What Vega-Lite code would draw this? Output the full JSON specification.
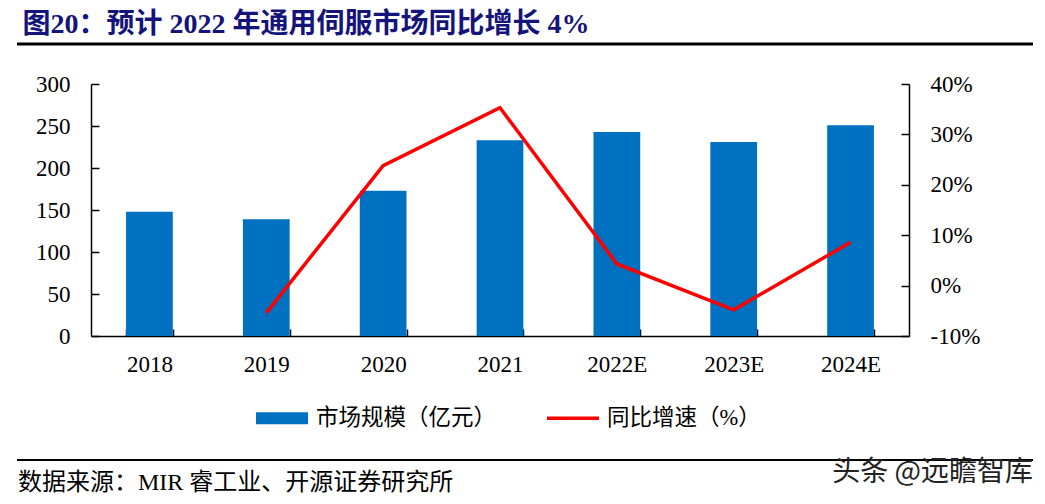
{
  "$schema": "https://vega.github.io/schema/vega-lite/v6.json",
  "background": "white",
  "padding": {"left": 15, "top": 10, "right": 0, "bottom": 0},
  "width": 818,
  "height": 252,
  "config": {"view": {"stroke": null}},
  "title": {
    "text": "图20：预计 2022 年通用伺服市场同比增长 4%",
    "anchor": "start",
    "frame": "bounds",
    "font": "Liberation Serif, Noto Sans CJK SC",
    "fontSize": 28,
    "fontWeight": "bold",
    "color": "#14147A",
    "offset": 4,
    "dx": 7
  },
  "datasets": {
    "market": [
      {"year": "2018", "size": 148, "growth": null},
      {"year": "2019", "size": 139, "growth": -5.4},
      {"year": "2020", "size": 173, "growth": 23.8},
      {"year": "2021", "size": 233, "growth": 35.3},
      {"year": "2022E", "size": 243, "growth": 4.3},
      {"year": "2023E", "size": 231, "growth": -4.8},
      {"year": "2024E", "size": 251, "growth": 8.6}
    ]
  },
  "layer": [
    {
      "data": {"name": "market"},
      "encoding": {
        "x": {
          "field": "year", "type": "nominal", "sort": null,
          "scale": {"paddingInner": 0.6, "paddingOuter": 0.3},
          "axis": {
            "title": null, "labelAngle": 0, "labelFont": "Liberation Serif", "labelFontSize": 23, "labelColor": "black",
            "domainColor": "black", "domainWidth": 1.5, "tickColor": "black", "tickWidth": 1.5, "tickSize": -7, "tickBand": "extent",
            "labelPadding": 24, "grid": false
          }
        }
      },
      "layer": [
        {
          "mark": {"type": "bar"},
          "encoding": {
            "y": {
              "field": "size", "type": "quantitative", "scale": {"domain": [0, 300]},
              "axis": {
                "title": null, "values": [0, 50, 100, 150, 200, 250, 300], "labelFont": "Liberation Serif", "labelFontSize": 23, "labelColor": "black",
                "domainColor": "black", "domainWidth": 1.5, "tickColor": "black", "tickWidth": 1.5, "tickSize": -8, "labelPadding": 29, "grid": false
              }
            },
            "color": {
              "datum": "市场规模（亿元）",
              "scale": {"domain": ["市场规模（亿元）", "同比增速（%）"], "range": ["#0070C0", "#FF0000"]},
              "legend": {
                "title": null, "orient": "none", "legendX": 165, "legendY": 308, "direction": "horizontal",
                "labelFont": "Liberation Serif, Noto Sans CJK SC", "labelFontSize": 22.5, "labelColor": "black", "labelLimit": 400,
                "labelOffset": 8, "columnPadding": 50, "symbolSize": 2704, "padding": 0,
                "encode": {
                  "symbols": {
                    "update": {
                      "shape": {"signal": "datum.value === '同比增速（%）' ? 'M-1,-0.067H1V0.067H-1Z' : 'M-1,-0.2308H1V0.2308H-1Z'"},
                      "fill": {"scale": "color", "field": "value"},
                      "stroke": {"value": "transparent"},
                      "strokeWidth": {"value": 0},
                      "opacity": {"value": 1}
                    }
                  }
                }
              }
            }
          }
        },
        {
          "mark": {"type": "line", "strokeWidth": 3.5},
          "encoding": {
            "y": {
              "field": "growth", "type": "quantitative", "scale": {"domain": [-10, 40]},
              "axis": {
                "orient": "right", "title": null, "values": [-10, 0, 10, 20, 30, 40], "labelExpr": "datum.value + '%'",
                "labelFont": "Liberation Serif", "labelFontSize": 23, "labelColor": "black",
                "domainColor": "black", "domainWidth": 1.5, "tickColor": "black", "tickWidth": 1.5, "tickSize": -8, "labelPadding": 29, "grid": false
              }
            },
            "color": {"datum": "同比增速（%）"}
          }
        }
      ],
      "resolve": {"scale": {"y": "independent"}}
    },
    {
      "data": {"values": [{"part": "title underline"}]},
      "mark": {"type": "rule", "color": "black", "strokeWidth": 3},
      "encoding": {
        "x": {"datum": -0.0905, "type": "quantitative", "scale": {"domain": [0, 1], "nice": false}, "axis": null},
        "x2": {"datum": 1.1516},
        "y": {"datum": 1.1587, "type": "quantitative", "scale": {"domain": [0, 1], "nice": false}, "axis": null}
      }
    },
    {
      "data": {"values": [{"part": "footer rule"}]},
      "mark": {"type": "rule", "color": "black", "strokeWidth": 2},
      "encoding": {
        "x": {"datum": -0.0905, "type": "quantitative", "scale": {"domain": [0, 1], "nice": false}, "axis": null},
        "x2": {"datum": 1.1516},
        "y": {"datum": -0.492, "type": "quantitative", "scale": {"domain": [0, 1], "nice": false}, "axis": null}
      }
    },
    {
      "data": {"values": [{"note": "数据来源：MIR 睿工业、开源证券研究所"}]},
      "mark": {"type": "text", "align": "left", "baseline": "middle", "font": "Liberation Serif, Noto Sans CJK SC", "fontSize": 24, "color": "black", "dx": 1},
      "encoding": {
        "x": {"datum": -0.0905, "type": "quantitative", "scale": {"domain": [0, 1], "nice": false}, "axis": null},
        "y": {"datum": -0.5833, "type": "quantitative", "scale": {"domain": [0, 1], "nice": false}, "axis": null},
        "text": {"field": "note"}
      }
    },
    {
      "data": {"values": [{"note": "头条 @远瞻智库"}]},
      "mark": {"type": "text", "align": "right", "baseline": "middle", "font": "Noto Sans CJK SC", "fontSize": 28, "color": "#222222"},
      "encoding": {
        "x": {"datum": 1.1516, "type": "quantitative", "scale": {"domain": [0, 1], "nice": false}, "axis": null},
        "y": {"datum": -0.5437, "type": "quantitative", "scale": {"domain": [0, 1], "nice": false}, "axis": null},
        "text": {"field": "note"}
      }
    }
  ],
  "resolve": {"scale": {"x": "independent", "y": "independent"}}
}
